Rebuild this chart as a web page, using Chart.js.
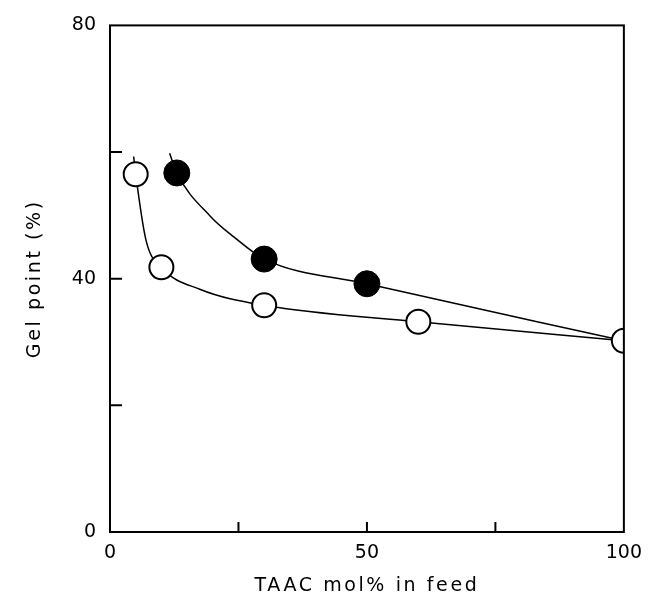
<!DOCTYPE html>
<html>
<head>
<meta charset="utf-8">
<script src="https://cdn.jsdelivr.net/npm/chart.js@4"></script>
<style>
  html, body { margin: 0; padding: 0; background: #fff; }
  #wrap { width: 652px; height: 600px; }
</style>
</head>
<body>
<div id="wrap"><canvas id="gel" width="652" height="600"></canvas></div>
<script>
// open circles (measured points)
const openX = [5, 10, 30, 60, 100];
const openY = [56.5, 41.8, 35.8, 33.2, 30.2];
// filled circles
const filledX = [13, 30, 50];
const filledY = [56.7, 43.1, 39.2];
// hand-drawn fit curves (they run a little past the first point)
const openCurveX = [4.6, 5, 7, 10, 17.6, 30, 60, 100];
const openCurveY = [59.3, 56.5, 46.1, 41.8, 38.3, 35.8, 33.2, 30.2];
const filledCurveX = [11.6, 13, 19.6, 24.1, 30, 50, 100];
const filledCurveY = [59.8, 56.7, 49.8, 46.6, 43.1, 39.2, 30.2];
// axis ticks
const xTicks = [0, 25, 50, 75, 100];
const xLabels = [0, 50, 100];
const yTicks = [0, 20, 40, 60, 80];
const yLabels = [0, 40, 80];

const INK = '#000';
const FONT = 'DejaVu Sans';

function pts(xs, ys) {
  return xs.map((x, i) => ({ x, y: ys[i] }));
}

// frame + inward tick marks, and letter-spaced axis titles
const framePlugin = {
  id: 'frame',
  beforeDraw(chart) {
    Object.values(chart.scales).forEach(s => {
      if (s._spaced) return;
      const orig = s.drawTitle.bind(s);
      s.drawTitle = function () {
        this.ctx.save();
        this.ctx.letterSpacing = '2.6px';
        orig();
        this.ctx.restore();
      };
      s._spaced = true;
    });
  },
  afterDraw(chart) {
    const { ctx, chartArea: a, scales } = chart;
    ctx.save();
    ctx.strokeStyle = INK;
    ctx.lineWidth = 2;
    ctx.strokeRect(a.left, a.top, a.right - a.left, a.bottom - a.top);
    ctx.beginPath();
    xTicks.slice(1, -1).forEach(v => {
      const px = scales.x.getPixelForValue(v);
      ctx.moveTo(px, a.bottom);
      ctx.lineTo(px, a.bottom - 10);
    });
    yTicks.slice(1, -1).forEach(v => {
      const py = scales.y.getPixelForValue(v);
      ctx.moveTo(a.left, py);
      ctx.lineTo(a.left + 12, py);
    });
    ctx.stroke();
    ctx.restore();
  }
};

new Chart(document.getElementById('gel'), {
  type: 'scatter',
  data: {
    datasets: [
      {
        label: 'open curve',
        data: pts(openCurveX, openCurveY),
        showLine: true,
        borderColor: INK,
        borderWidth: 1.5,
        pointRadius: 0,
        cubicInterpolationMode: 'monotone',
        order: 3
      },
      {
        label: 'filled curve',
        data: pts(filledCurveX, filledCurveY),
        showLine: true,
        borderColor: INK,
        borderWidth: 1.5,
        pointRadius: 0,
        cubicInterpolationMode: 'monotone',
        order: 2
      },
      {
        label: 'filled',
        data: pts(filledX, filledY),
        pointRadius: 13,
        pointBackgroundColor: INK,
        pointBorderColor: INK,
        pointBorderWidth: 1,
        order: 1
      },
      {
        label: 'open',
        data: pts(openX, openY),
        pointRadius: 12,
        pointBackgroundColor: '#fff',
        pointBorderColor: INK,
        pointBorderWidth: 2,
        clip: 0,
        order: 0
      }
    ]
  },
  options: {
    responsive: false,
    animation: false,
    layout: { padding: { left: 0, right: 25, top: 19, bottom: 0 } },
    plugins: { legend: { display: false }, tooltip: { enabled: false } },
    scales: {
      x: {
        type: 'linear',
        min: 0,
        max: 100,
        afterFit(scale) { scale.height = 68; },
        afterBuildTicks(scale) { scale.ticks = xTicks.map(v => ({ value: v })); },
        grid: { display: false, drawTicks: false },
        border: { display: false },
        ticks: {
          color: INK,
          padding: 10,
          font: { family: FONT, size: 19 },
          callback: v => xLabels.includes(v) ? String(v) : ''
        },
        title: {
          display: true,
          text: 'TAAC mol% in feed',
          color: INK,
          font: { family: FONT, size: 19 },
          padding: { top: 0, bottom: 3 }
        }
      },
      y: {
        type: 'linear',
        min: 0,
        max: 80,
        afterFit(scale) { scale.width = 110; },
        afterBuildTicks(scale) { scale.ticks = yTicks.map(v => ({ value: v })); },
        grid: { display: false, drawTicks: false },
        border: { display: false },
        ticks: {
          color: INK,
          padding: 14,
          font: { family: FONT, size: 19 },
          callback: v => yLabels.includes(v) ? String(v) : ''
        },
        title: {
          display: true,
          text: 'Gel point (%)',
          color: INK,
          font: { family: FONT, size: 19 },
          padding: { top: 24, bottom: 0 }
        }
      }
    }
  },
  plugins: [framePlugin]
});
</script>
</body>
</html>
